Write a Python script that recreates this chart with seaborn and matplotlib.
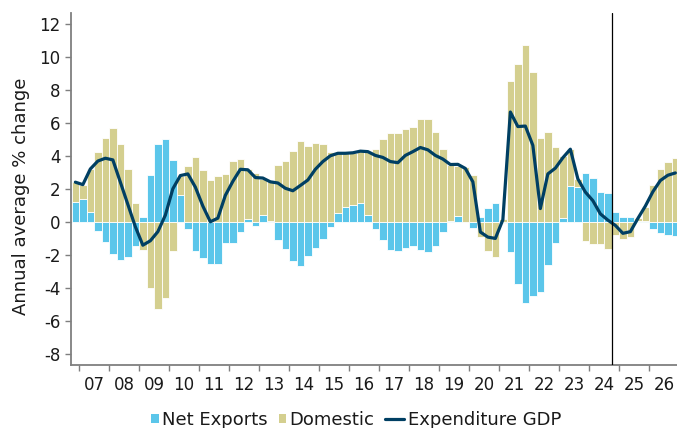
import numpy as np
import pandas as pd
import matplotlib
matplotlib.use("Agg")
import matplotlib.pyplot as plt
import seaborn as sns
from matplotlib.patches import Patch
from matplotlib.lines import Line2D
from matplotlib.legend_handler import HandlerLine2D

# Quarterly data, 2006Q4 .. 2026Q4
start_year = 2006.75
net_exports = [1.2, 1.4, 0.6, -0.55, -1.2, -1.95, -2.3, -2.15, -1.45, 0.3,
               2.83, 4.7, 5.0, 3.75, 1.65, -0.45, -1.8, -2.2, -2.55, -2.55,
               -1.3, -1.27, -0.6, 0.18, -0.28, 0.42, 0.04, -1.11, -1.65, -2.38,
               -2.67, -2.06, -1.56, -1.07, -0.3, 0.55, 0.9, 1.0, 1.13, 0.38,
               -0.42, -1.09, -1.7, -1.78, -1.58, -1.49, -1.72, -1.86, -1.45, -0.61,
               0.04, 0.35, 0.0, -0.4, 0.27, 0.81, 1.11, -0.05, -1.86, -3.8,
               -4.91, -4.48, -4.28, -2.59, -1.27, 0.2, 2.16, 2.1, 2.93, 2.63,
               1.82, 1.72, 0.59, 0.28, 0.28, 0.03, 0.02, -0.41, -0.71, -0.83,
               -0.89]
domestic = [1.2, 0.8, 2.6, 4.2, 5.05, 5.68, 4.7, 3.2, 1.15, -1.72,
            -4.0, -5.3, -4.6, -1.75, 1.15, 3.35, 3.92, 3.15, 2.55, 2.77,
            2.92, 3.7, 3.8, 3.0, 2.93, 2.15, 2.48, 3.47, 3.7, 4.26,
            4.89, 4.61, 4.75, 4.73, 4.22, 3.6, 3.25, 3.18, 3.15, 3.88,
            4.44, 4.99, 5.35, 5.37, 5.6, 5.74, 6.22, 6.22, 5.47, 4.44,
            3.4, 3.0, 3.3, 2.83, -0.91, -1.76, -2.12, 0.15, 8.53, 9.56,
            10.71, 9.09, 5.05, 5.47, 4.53, 3.8, 2.24, 0.49, -1.15, -1.37,
            -1.37, -1.65, -0.81, -1.05, -0.9, 0.2, 0.9, 2.22, 3.19, 3.63,
            3.84]
gdp = [2.4, 2.25, 3.2, 3.68, 3.85, 3.75, 2.4, 1.05, -0.3, -1.42,
       -1.15, -0.6, 0.4, 2.0, 2.8, 2.9, 2.1, 0.95, 0.0, 0.22,
       1.6, 2.45, 3.18, 3.15, 2.68, 2.65, 2.42, 2.35, 2.03, 1.88,
       2.2, 2.53, 3.18, 3.65, 4.0, 4.15, 4.15, 4.18, 4.28, 4.25,
       4.02, 3.9, 3.65, 3.58, 4.02, 4.25, 4.5, 4.36, 4.02, 3.8,
       3.47, 3.48, 3.23, 2.42, -0.62, -0.93, -1.01, 0.12, 6.65, 5.77,
       5.8, 4.63, 0.8, 2.9, 3.25, 3.88, 4.4, 2.6, 1.8, 1.28,
       0.48, 0.1, -0.22, -0.7, -0.6, 0.2, 0.95, 1.82, 2.5, 2.82,
       2.96]
years = list(range(2007, 2027))
year_labels = [f"{y % 100:02d}" for y in years]
forecast_start = 2024.75

NX_COLOR = "#5BC6EA"
DOM_COLOR = "#D4CF8F"
GDP_COLOR = "#003F63"

n = len(net_exports)
df = pd.DataFrame({
    "t": start_year + 0.25 * np.arange(n) + 0.125,
    "nx": net_exports,
    "dom": domestic,
    "gdp": gdp,
})

sns.set_style("white")
plt.rcParams["font.family"] = ["DejaVu Sans"]

fig = plt.figure(figsize=(6.77, 4.28), dpi=100)
ax = fig.add_axes([71 / 677, 1 - 365 / 428, 1 - 71 / 677, (365 - 12.7) / 428])

nx = df["nx"].to_numpy()
dom = df["dom"].to_numpy()
dom_bottom = np.where(np.sign(nx) == np.sign(dom), nx, 0.0)

ax.bar(df["t"], nx, width=0.25, color=NX_COLOR, edgecolor="white", linewidth=0.6, zorder=2)
ax.bar(df["t"], dom, width=0.25, bottom=dom_bottom, color=DOM_COLOR,
       edgecolor="white", linewidth=0.6, zorder=2)
sns.lineplot(data=df, x="t", y="gdp", ax=ax, color=GDP_COLOR, linewidth=2.3, zorder=4)
ax.axvline(forecast_start, color="black", linewidth=0.9, zorder=5)

ax.set_xlim(2006.73, 2026.93)
ax.set_ylim(-8.68, 12.67)
ax.set_yticks(np.arange(-8, 13, 2))
ax.set_yticklabels([str(v) for v in range(-8, 13, 2)])

ax.set_xticks(years)
ax.set_xticklabels([])
ax.set_xticks([y + 0.5 for y in years], minor=True)
ax.set_xticklabels(year_labels, minor=True)
ax.tick_params(axis="x", which="major", length=4, width=1, color="#7f7f7f", direction="out", bottom=True)
ax.tick_params(axis="x", which="minor", length=0, pad=8, labelsize=12, labelcolor="#1a1a1a")
ax.tick_params(axis="y", length=4, width=1, color="#7f7f7f", direction="out", left=True,
               pad=3.5, labelsize=12, labelcolor="#1a1a1a")

for s in ["top", "right"]:
    ax.spines[s].set_visible(False)
for s in ["left", "bottom"]:
    ax.spines[s].set_color("#7f7f7f")
    ax.spines[s].set_linewidth(1.3)

ax.set_xlabel("")
ax.set_ylabel("Annual average % change", fontsize=13, color="#1a1a1a")
ax.yaxis.set_label_coords(-0.068, 0.48)


class LongLineHandler(HandlerLine2D):
    def legend_artist(self, legend, orig_handle, fontsize, handlebox):
        handlebox.width = 1.05 * fontsize
        return super().legend_artist(legend, orig_handle, fontsize, handlebox)


handles = [Patch(facecolor=NX_COLOR, edgecolor="none", label="Net Exports"),
           Patch(facecolor=DOM_COLOR, edgecolor="none", label="Domestic"),
           Line2D([0], [0], color=GDP_COLOR, linewidth=2.3, label="Expenditure GDP")]
leg = fig.legend(handles=handles, loc="center", bbox_to_anchor=(356 / 677, 1 - 420 / 428),
                 ncol=3, frameon=False, fontsize=13, handlelength=0.43, handleheight=0.43,
                 handletextpad=0.18, columnspacing=0.6, borderaxespad=0, borderpad=0,
                 handler_map={Line2D: LongLineHandler()})
for t in leg.get_texts():
    t.set_color("#1a1a1a")

fig.savefig("out.png", dpi=100)
